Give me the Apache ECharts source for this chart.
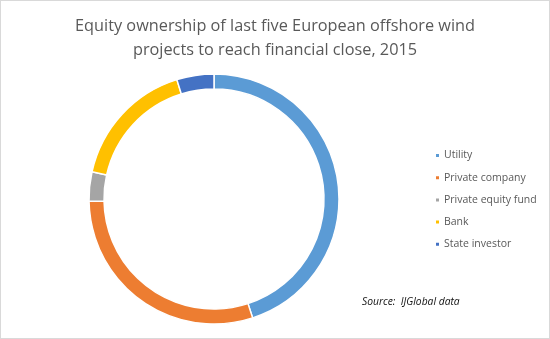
<!DOCTYPE html>
<html><head><meta charset="utf-8">
<script src="https://cdn.jsdelivr.net/npm/echarts@6/dist/echarts.min.js"></script>
<style>
html,body{margin:0;padding:0;background:#fff;}
#c{position:absolute;left:0;top:0;width:548px;height:337px;border:1px solid #d9d9d9;}
</style></head><body>
<div id="c"></div>
<script>
const categories = ["Utility", "Private company", "Private equity fund", "Bank", "State investor"];
const values = [45, 29.7, 3.8, 16.7, 4.8];
const colors = ["#5B9BD5", "#ED7D31", "#A5A5A5", "#FFC000", "#4472C4"];
const titleText = "Equity ownership of last five European offshore wind\nprojects to reach financial close, 2015";
const sourceText = "Source:  IJGlobal data";

const chart = echarts.init(document.getElementById('c'), null, {renderer: 'canvas'});
chart.setOption({
  animation: false,
  color: colors,
  title: [{
    text: titleText,
    left: 'center',
    top: 8,
    textStyle: {fontFamily: 'Open Sans', fontSize: 16.3, fontWeight: 'normal', color: '#595959', lineHeight: 24.5}
  }, {
    text: sourceText,
    left: 356,
    top: 291,
    textStyle: {fontFamily: 'Open Sans', fontSize: 10.3, fontStyle: 'italic', fontWeight: 'normal', color: '#111'}
  }],
  legend: {
    orient: 'vertical',
    left: 428,
    top: 144,
    icon: 'rect',
    itemWidth: 5,
    itemHeight: 5,
    itemGap: 11.2,
    textStyle: {fontFamily: 'Open Sans', fontSize: 10.5, color: '#595959', padding: [0, 0, 0, -1]},
    data: categories
  },
  series: [{
    type: 'pie',
    center: [213, 198],
    radius: [110, 125],
    startAngle: 90,
    clockwise: true,
    label: {show: false},
    labelLine: {show: false},
    itemStyle: {borderColor: '#fff', borderWidth: 1.5},
    emphasis: {disabled: true},
    data: categories.map((n, i) => ({name: n, value: values[i]}))
  }]
});
</script></body></html>
